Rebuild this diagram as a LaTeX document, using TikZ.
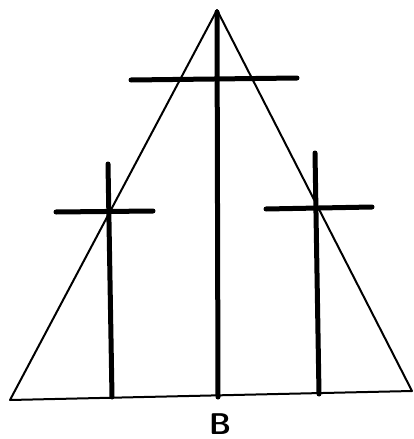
\documentclass[tikz,border=0pt]{standalone}
\usepackage{fontspec}
\begin{document}
\begin{tikzpicture}[x=1pt,y=-1pt,
  thin line/.style={line width=2pt,line join=round,line cap=round},
  bar/.style={line width=5pt,line cap=round}]
\useasboundingbox (0,0) rectangle (413,439);
\coordinate (A) at (217,10);
\coordinate (L) at (10,400);
\coordinate (R) at (412,391);
\draw[thin line] (A) -- (L) -- (R) -- cycle;
% middle cross
\coordinate (m1) at (217,12);
\coordinate (m2) at (218,397);
\coordinate (mh1) at (131,80);
\coordinate (mh2) at (297,78);
\draw[bar] (m1) -- (m2);
\draw[bar] (mh1) -- (mh2);
% left cross
\coordinate (l1) at (108,164);
\coordinate (l2) at (112,397);
\coordinate (lh1) at (56,212);
\coordinate (lh2) at (153,211);
\draw[bar] (l1) -- (l2);
\draw[bar] (lh1) -- (lh2);
% right cross
\coordinate (r1) at (315,153);
\coordinate (r2) at (319,394);
\coordinate (rh1) at (266,209);
\coordinate (rh2) at (372,207);
\draw[bar] (r1) -- (r2);
\draw[bar] (rh1) -- (rh2);
\node[font=\sffamily\bfseries\fontsize{20}{20}\selectfont,scale=1.5,inner sep=0pt] (B) at (220,424) {B};
\end{tikzpicture}
\end{document}
